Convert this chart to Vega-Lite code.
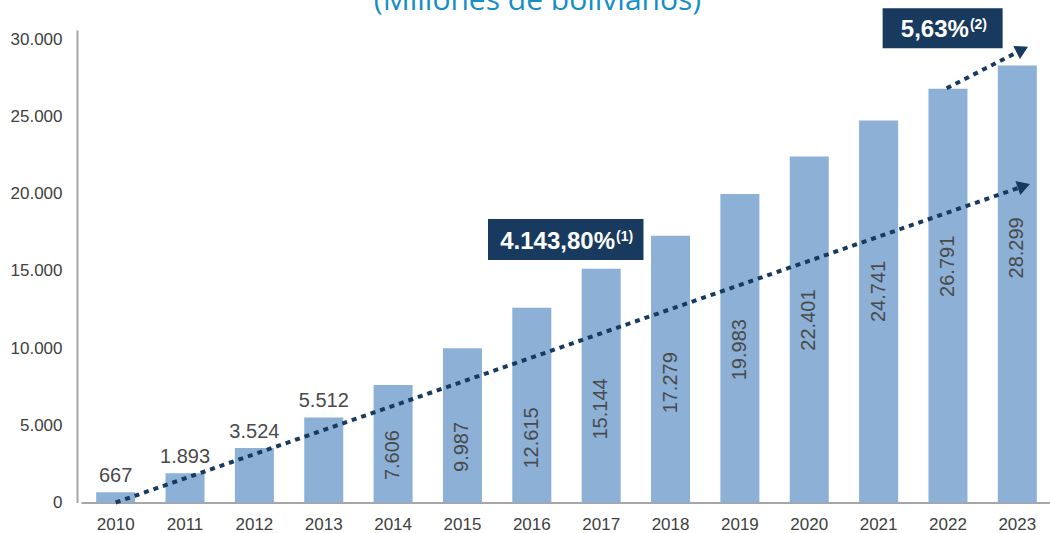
{
  "$schema": "https://vega.github.io/schema/vega-lite/v6.json",
  "autosize": {"type": "none"},
  "padding": {"left": 81, "top": 30, "right": 0, "bottom": 30.5},
  "width": 971,
  "height": 472.5,
  "background": "white",
  "title": {
    "text": "(Millones de bolivianos)",
    "frame": "group",
    "anchor": "middle",
    "offset": -2,
    "baseline": "alphabetic",
    "dx": -29,
    "dy": 30,
    "font": "Open Sans",
    "fontSize": 30,
    "fontWeight": "normal",
    "color": "#168FC6"
  },
  "datasets": {
    "main": [
      {"year": "2010", "value": 667},
      {"year": "2011", "value": 1893},
      {"year": "2012", "value": 3524},
      {"year": "2013", "value": 5512},
      {"year": "2014", "value": 7606},
      {"year": "2015", "value": 9987},
      {"year": "2016", "value": 12615},
      {"year": "2017", "value": 15144},
      {"year": "2018", "value": 17279},
      {"year": "2019", "value": 19983},
      {"year": "2020", "value": 22401},
      {"year": "2021", "value": 24741},
      {"year": "2022", "value": 26791},
      {"year": "2023", "value": 28299}
    ],
    "boxes": [
      {"id": 1, "i1": 5.368, "i2": 7.61, "v1": 15705, "v2": 18360, "ti": 7.199, "tv": 16417, "label": "4.143,80%", "sup": "(1)"},
      {"id": 2, "i1": 11.058, "i2": 12.788, "v1": 29415, "v2": 32006, "ti": 12.302, "tv": 30115, "label": "5,63%", "sup": "(2)"}
    ],
    "arrows": [
      {"arrow": 1, "i": 0, "v": 0},
      {"arrow": 1, "i": 13.095, "v": 20497},
      {"arrow": 2, "i": 11.981, "v": 26825},
      {"arrow": 2, "i": 13.072, "v": 29331}
    ],
    "heads": [
      {"arrow": 1, "i": 13.095, "v": 20497},
      {"arrow": 2, "i": 13.072, "v": 29331}
    ]
  },
  "config": {
    "view": {"stroke": null},
    "locale": {"number": {"decimal": ",", "thousands": ".", "grouping": [3], "currency": ["", ""]}},
    "axis": {
      "grid": false,
      "ticks": false,
      "domainColor": "#A6A6A6",
      "domainWidth": 2,
      "labelColor": "#404040",
      "labelFont": "Liberation Sans",
      "labelFontSize": 17
    }
  },
  "resolve": {"scale": {"x": "independent"}},
  "layer": [
    {
      "data": {"name": "main"},
      "encoding": {
        "x": {
          "field": "year",
          "type": "ordinal",
          "scale": {"paddingInner": 0.4375, "paddingOuter": 0.21875},
          "axis": {"title": null, "labelAngle": 0, "labelPadding": 14}
        },
        "y": {
          "field": "value",
          "type": "quantitative",
          "title": null,
          "scale": {"domain": [0, 30600], "nice": false, "zero": true},
          "axis": {"title": null, "values": [0, 5000, 10000, 15000, 20000, 25000, 30000], "format": ",d", "offset": 4, "labelPadding": 15}
        }
      },
      "layer": [
        {"mark": {"type": "bar", "color": "#8CB0D6"}},
        {
          "transform": [{"filter": "datum.value < 7000"}],
          "mark": {"type": "text", "baseline": "alphabetic", "align": "center", "dy": -10, "font": "Liberation Sans", "fontSize": 20, "color": "#4A4A4A"},
          "encoding": {"text": {"field": "value", "type": "quantitative", "format": ",d"}}
        },
        {
          "transform": [
            {"filter": "datum.value >= 7000"},
            {"calculate": "max(0.793 * datum.value - 5950, 0.22 * datum.value + 1400)", "as": "labelPos"}
          ],
          "mark": {"type": "text", "baseline": "middle", "align": "center", "angle": 270, "font": "Liberation Sans", "fontSize": 20, "color": "#4A4A4A"},
          "encoding": {
            "y": {"field": "labelPos", "type": "quantitative", "title": null},
            "text": {"field": "value", "type": "quantitative", "format": ",d"}
          }
        }
      ]
    },
    {
      "layer": [
        {
          "data": {"name": "arrows"},
          "mark": {"type": "line", "color": "#173A5E", "strokeWidth": 4, "strokeDash": [5, 5], "strokeCap": "butt", "clip": false},
          "encoding": {
            "x": {"field": "i", "type": "quantitative", "scale": {"domain": [-0.5, 13.5], "nice": false, "zero": false}, "axis": null},
            "y": {"field": "v", "type": "quantitative", "title": null, "scale": {"domain": [0, 30600], "nice": false}},
            "detail": {"field": "arrow", "type": "nominal"}
          }
        },
        {
          "data": {"name": "heads"},
          "transform": [{"filter": "datum.arrow == 1"}],
          "mark": {"type": "point", "shape": "triangle-right", "filled": true, "opacity": 1, "size": 220, "angle": 341, "color": "#173A5E", "clip": false},
          "encoding": {
            "x": {"field": "i", "type": "quantitative", "scale": {"domain": [-0.5, 13.5], "nice": false, "zero": false}, "axis": null},
            "y": {"field": "v", "type": "quantitative", "title": null}
          }
        },
        {
          "data": {"name": "heads"},
          "transform": [{"filter": "datum.arrow == 2"}],
          "mark": {"type": "point", "shape": "triangle-right", "filled": true, "opacity": 1, "size": 220, "angle": 333, "color": "#173A5E", "clip": false},
          "encoding": {
            "x": {"field": "i", "type": "quantitative", "scale": {"domain": [-0.5, 13.5], "nice": false, "zero": false}, "axis": null},
            "y": {"field": "v", "type": "quantitative", "title": null}
          }
        },
        {
          "data": {"name": "boxes"},
          "mark": {"type": "rect", "color": "#173A5E", "clip": false},
          "encoding": {
            "x": {"field": "i1", "type": "quantitative", "scale": {"domain": [-0.5, 13.5], "nice": false, "zero": false}, "axis": null},
            "x2": {"field": "i2"},
            "y": {"field": "v1", "type": "quantitative", "title": null},
            "y2": {"field": "v2"}
          }
        },
        {
          "data": {"name": "boxes"},
          "mark": {"type": "text", "align": "right", "baseline": "alphabetic", "font": "Liberation Sans", "fontWeight": "bold", "fontSize": 24, "color": "white", "clip": false},
          "encoding": {
            "x": {"field": "ti", "type": "quantitative", "scale": {"domain": [-0.5, 13.5], "nice": false, "zero": false}, "axis": null},
            "y": {"field": "tv", "type": "quantitative", "title": null},
            "text": {"field": "label", "type": "nominal"}
          }
        },
        {
          "data": {"name": "boxes"},
          "mark": {"type": "text", "align": "left", "baseline": "alphabetic", "dx": 1, "dy": -8, "font": "Liberation Sans", "fontWeight": "bold", "fontSize": 14, "color": "white", "clip": false},
          "encoding": {
            "x": {"field": "ti", "type": "quantitative", "scale": {"domain": [-0.5, 13.5], "nice": false, "zero": false}, "axis": null},
            "y": {"field": "tv", "type": "quantitative", "title": null},
            "text": {"field": "sup", "type": "nominal"}
          }
        }
      ]
    }
  ]
}
